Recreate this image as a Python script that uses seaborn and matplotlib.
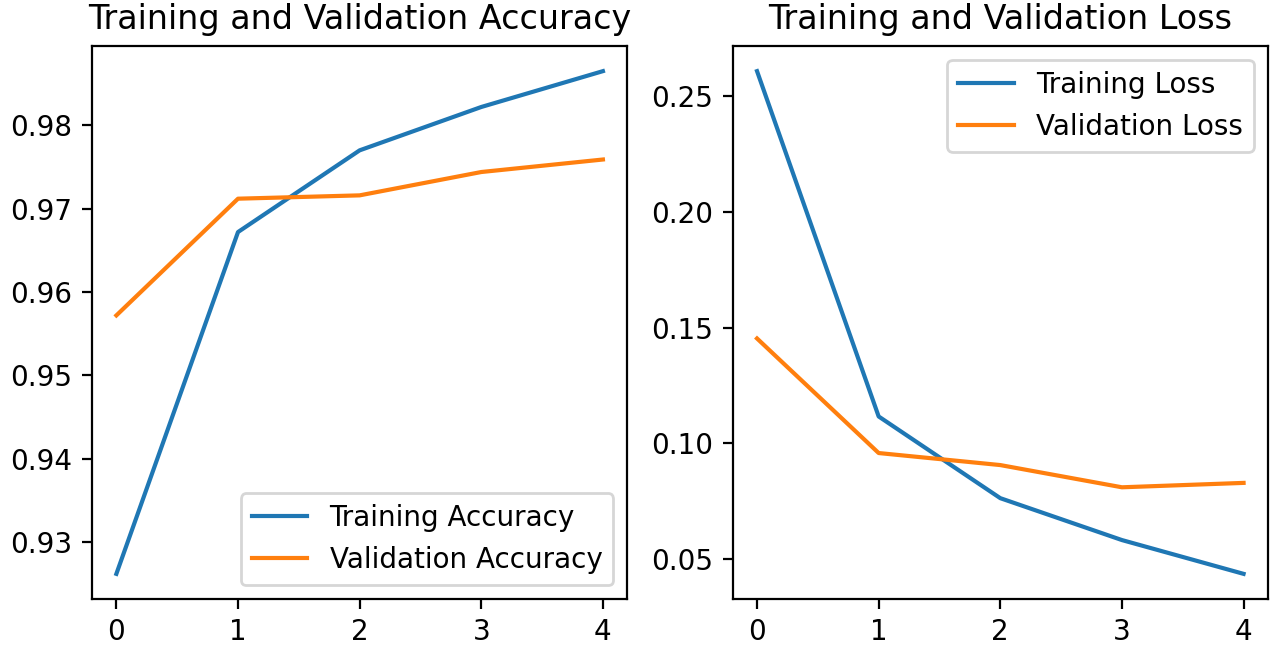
import numpy as np
import pandas as pd
import matplotlib
matplotlib.use("Agg")
import matplotlib.pyplot as plt
import seaborn as sns

epochs = [0, 1, 2, 3, 4]
train_acc = [0.9262, 0.9672, 0.9770, 0.9822, 0.9865]
val_acc = [0.9572, 0.9712, 0.9716, 0.9744, 0.9759]
train_loss = [0.2608, 0.1116, 0.0763, 0.0582, 0.0436]
val_loss = [0.1453, 0.0958, 0.0906, 0.0810, 0.0829]

fig, (ax1, ax2) = plt.subplots(1, 2, figsize=(1273 / 200, 647 / 200), dpi=200)
fig.subplots_adjust(left=0.0723, right=0.996, bottom=0.0742, top=0.9289, wspace=0.197)

sns.lineplot(x=epochs, y=train_acc, ax=ax1, label='Training Accuracy')
sns.lineplot(x=epochs, y=val_acc, ax=ax1, label='Validation Accuracy')
ax1.legend(loc='lower right')
ax1.set_title('Training and Validation Accuracy')

sns.lineplot(x=epochs, y=train_loss, ax=ax2, label='Training Loss')
sns.lineplot(x=epochs, y=val_loss, ax=ax2, label='Validation Loss')
ax2.legend(loc='upper right')
ax2.set_title('Training and Validation Loss')

for ax in (ax1, ax2):
    ax.set_xticks(epochs)

fig.savefig('out.png', dpi=200)
